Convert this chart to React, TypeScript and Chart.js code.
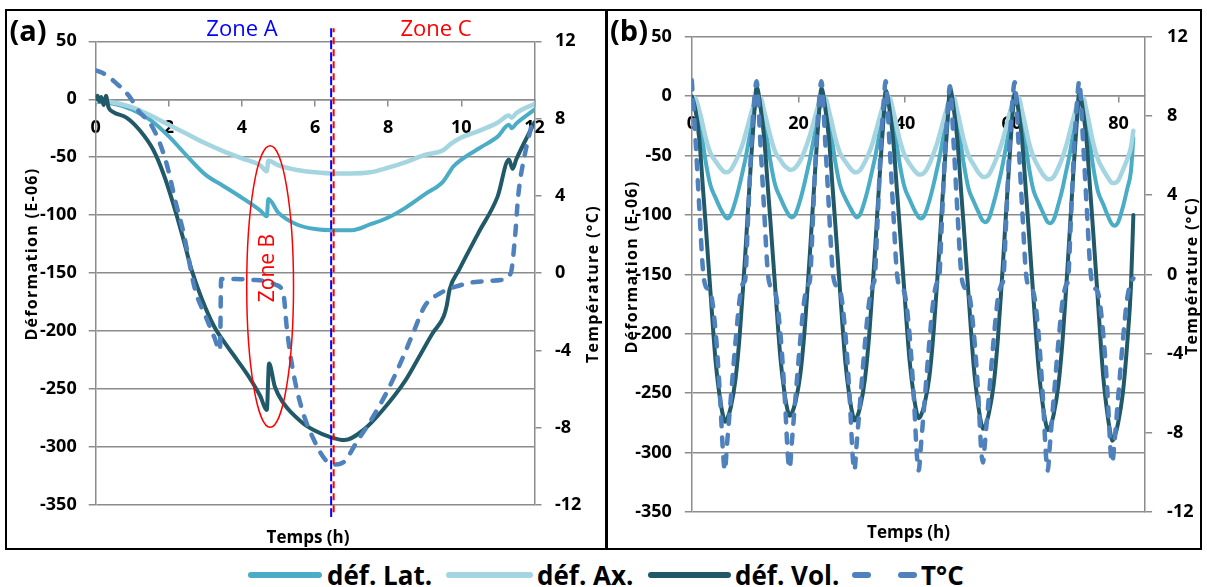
import React, { useEffect, useRef } from "react";
import { Chart, registerables } from "chart.js";

Chart.register(...registerables);

const FONT = "'Open Sans', 'DejaVu Sans', sans-serif";
const GRID = "#8C8C8C";
const C_LAT = "#4BACC6";
const C_AX = "#A5D5E1";
const C_VOL = "#215968";
const C_TEMP = "#4F81BD";

// ---------------- Panel (a): one 12 h cycle ----------------
const aLatT = [0, 0.5, 1, 1.5, 2, 2.5, 3, 3.5, 4, 4.5, 4.68, 4.72, 5, 5.5, 6, 6.5, 7, 7.5, 8, 8.5, 9, 9.5, 9.78, 10, 10.5, 11, 11.3, 11.38, 11.5, 12];
const aLatV = [-2, -4, -9, -18, -32, -49, -65, -75, -85, -96, -101, -86, -98, -108, -112, -113, -113, -108, -102, -93, -82, -71, -58, -52, -42, -32, -22, -25, -21, -9];

const aAxT = [0, 0.5, 1, 1.5, 2, 2.5, 3, 3.5, 4, 4.5, 4.68, 4.72, 5, 5.5, 6, 6.5, 7, 7.5, 8, 8.5, 9, 9.5, 9.73, 10, 10.5, 11, 11.3, 11.38, 11.5, 12];
const aAxV = [-1, -3, -7, -14, -22, -30, -38, -45, -51, -57, -62, -53, -57, -61, -63, -64, -64, -63, -59, -54, -48, -44, -38, -33, -27, -20, -14, -16, -12, -4];

const aVolT = [0, 0.05, 0.1, 0.15, 0.22, 0.28, 0.35, 0.48, 0.85, 1.21, 1.58, 1.85, 2.12, 2.4, 2.62, 2.9, 3.24, 3.55, 3.87, 4.2, 4.5, 4.68, 4.74, 4.9, 5.13, 5.65, 6.0, 6.38, 6.8, 7.33, 7.85, 8.48, 8.9, 9.21, 9.52, 9.6, 9.68, 9.94, 10.47, 10.99, 11.3, 11.4, 11.5, 12];
const aVolV = [0, 3, -2, 2, -5, 3, -7, -11, -16, -27, -44, -64, -90, -121, -147, -172, -196, -211, -225, -240, -256, -268, -228, -248, -262, -279, -286, -291, -294, -285, -268, -242, -219, -202, -187, -178, -164, -147, -115, -84, -52, -60, -52, -20];

const aTempT = [0, 0.25, 0.58, 0.94, 1.17, 1.49, 1.76, 1.99, 2.17, 2.4, 2.72, 3.0, 3.24, 3.4, 3.43, 3.8, 4.3, 4.6, 4.92, 5.13, 5.23, 5.39, 5.65, 5.96, 6.28, 6.54, 6.8, 7.12, 7.53, 7.95, 8.37, 8.68, 9.0, 9.42, 9.84, 10.46, 11.09, 11.35, 11.46, 11.56, 11.72, 11.94];
const aTempV = [10.5, 10.3, 9.8, 9.1, 8.4, 7.75, 6.7, 5.3, 3.8, 2.1, -0.87, -2.2, -3.3, -4.0, -0.3, -0.3, -0.35, -0.4, -0.6, -1.04, -2.9, -5.0, -7.1, -8.6, -9.66, -9.9, -9.75, -8.8, -7.6, -6.2, -4.5, -3.1, -1.7, -1.04, -0.7, -0.44, -0.35, 0, 1.7, 4.1, 6.0, 7.8];

const ZONE_LINE_T = 6.48;
const ELLIPSE_T = 4.77;
const ELLIPSE_HALF_W = 0.64;
const ELLIPSE_TOP = -40;
const ELLIPSE_BOTTOM = -283;

// ---------------- Panel (b): seven cycles ----------------
const bT = [
  0, 0.7, 1.4, 2.1, 2.6, 3.5, 4.5, 5.3, 5.9, 6.2, 6.6, 7.3, 8.2, 9.0, 9.7, 10.0, 10.5, 11.1, 11.7,
  12.15, 12.85, 13.55, 14.25, 14.75, 15.65, 16.65, 17.45, 18.05, 18.35, 18.75, 19.45, 20.35, 21.15, 21.85, 22.15, 22.65, 23.25, 23.85,
  24.3, 25.0, 25.7, 26.4, 26.9, 27.8, 28.8, 29.6, 30.2, 30.5, 30.9, 31.6, 32.5, 33.3, 34.0, 34.3, 34.8, 35.4, 36.0,
  36.35, 37.05, 37.75, 38.45, 38.95, 39.85, 40.85, 41.65, 42.25, 42.55, 42.95, 43.65, 44.55, 45.35, 46.05, 46.35, 46.85, 47.45, 48.05,
  48.4, 49.1, 49.8, 50.5, 51.0, 51.9, 52.9, 53.7, 54.3, 54.6, 55.0, 55.7, 56.6, 57.4, 58.1, 58.4, 58.9, 59.5, 60.1,
  60.55, 61.25, 61.95, 62.65, 63.15, 64.05, 65.05, 65.85, 66.45, 66.75, 67.15, 67.85, 68.75, 69.55, 70.25, 70.55, 71.05, 71.65, 72.25,
  72.65, 73.35, 74.05, 74.75, 75.25, 76.15, 77.15, 77.95, 78.55, 78.85, 79.25, 79.95, 80.85, 81.65, 82.35, 82.8,
];
const bTemp = [
  9.8, 6.8, 3.4, 0.2, -0.6, -0.9, -3.0, -6.2, -9.2, -9.9, -8.6, -6.3, -3.4, -1.2, -0.4, -0.3, 2.5, 6.2, 8.8,
  9.75, 6.7, 3.3, 0.1, -0.6, -0.9, -3.1, -6.3, -9.3, -9.8, -8.5, -6.2, -3.3, -1.2, -0.5, -0.3, 2.4, 6.1, 8.7,
  9.75, 6.8, 3.4, 0.2, -0.5, -0.8, -3.0, -6.2, -9.3, -9.9, -8.6, -6.3, -3.4, -1.3, -0.5, -0.2, 2.5, 6.2, 8.8,
  9.75, 6.7, 3.3, 0.1, -0.6, -0.9, -3.1, -6.3, -9.3, -9.9, -8.7, -6.4, -3.4, -1.2, -0.4, -0.3, 2.4, 6.0, 8.6,
  9.5, 6.6, 3.2, 0.1, -0.6, -0.9, -3.0, -6.0, -9.0, -9.5, -8.4, -6.2, -3.3, -1.2, -0.5, -0.3, 2.4, 6.1, 8.7,
  9.7, 6.7, 3.3, 0.1, -0.6, -0.9, -3.1, -6.3, -9.3, -9.9, -8.6, -6.3, -3.4, -1.3, -0.5, -0.3, 2.5, 6.2, 8.8,
  9.75, 6.8, 3.4, 0.2, -0.6, -0.9, -3.0, -6.0, -9.0, -9.5, -8.5, -6.2, -3.3, -1.2, -0.4, -0.2,
];
const bVol = [
  0, -12, -36, -78, -108, -165, -225, -255, -270, -274, -272, -262, -238, -200, -155, -135, -98, -55, -15,
  8, -8, -34, -76, -106, -162, -222, -252, -266, -269, -267, -257, -234, -197, -152, -132, -96, -54, -14,
  7, -9, -35, -77, -107, -164, -224, -254, -269, -273, -271, -261, -237, -199, -154, -134, -97, -55, -16,
  5, -10, -36, -78, -108, -164, -223, -253, -268, -271, -269, -259, -236, -198, -153, -133, -97, -55, -15,
  7, -10, -37, -80, -110, -168, -229, -260, -276, -280, -278, -267, -243, -204, -158, -137, -100, -58, -18,
  3, -12, -38, -80, -111, -169, -230, -261, -277, -281, -279, -268, -243, -204, -158, -137, -100, -57, -18,
  3, -12, -39, -82, -113, -172, -236, -268, -285, -290, -287, -275, -249, -208, -160, -100,
];
const bLat = [
  -2, -5, -20, -40, -55, -75, -86, -94, -99, -101, -103, -100, -88, -74, -60, -54, -42, -27, -12,
  -5, -4, -20, -40, -55, -75, -86, -94, -99, -101, -102, -99, -87, -73, -59, -53, -41, -27, -12,
  -5, -4, -20, -40, -55, -75, -86, -93, -98, -100, -102, -99, -87, -73, -59, -53, -41, -26, -12,
  -5, -4, -20, -41, -56, -76, -87, -95, -100, -102, -103, -100, -88, -74, -60, -54, -42, -27, -13,
  -5, -5, -21, -42, -57, -78, -89, -97, -103, -105, -106, -103, -90, -76, -62, -55, -43, -28, -13,
  -5, -5, -21, -42, -58, -79, -90, -98, -104, -106, -107, -104, -91, -77, -62, -56, -44, -28, -13,
  -6, -5, -22, -43, -59, -80, -91, -100, -106, -108, -109, -106, -93, -78, -63, -35,
];
const bAx = [
  -1, -2, -12, -25, -35, -48, -55, -60, -63, -64, -64, -62, -55, -47, -38, -33, -25, -15, -6,
  -1, -1, -12, -25, -34, -47, -54, -59, -61, -62, -62, -60, -54, -46, -37, -33, -25, -15, -6,
  -1, -1, -12, -25, -35, -48, -55, -60, -63, -64, -64, -62, -55, -47, -38, -33, -25, -15, -6,
  -1, -1, -12, -26, -36, -49, -57, -62, -65, -66, -66, -64, -57, -48, -39, -34, -26, -16, -7,
  -1, -1, -13, -27, -37, -50, -58, -64, -67, -68, -68, -66, -58, -49, -40, -35, -27, -16, -7,
  -1, -1, -13, -27, -38, -51, -60, -66, -69, -70, -70, -68, -60, -51, -41, -36, -27, -17, -7,
  -1, -1, -13, -28, -39, -53, -62, -68, -72, -73, -73, -71, -62, -53, -43, -29,
];

const LEGEND_LABELS = ["déf. Lat.", "déf. Ax.", "déf. Vol.", "T°C"];

function pts(t: number[], v: number[]) {
  return t.map((x, i) => ({ x, y: v[i] }));
}

function ds(label: string, data: any[], color: string, width: number, order: number, yAxisID: string, dash?: number[]) {
  return {
    label,
    data,
    borderColor: color,
    backgroundColor: color,
    borderWidth: width,
    pointRadius: 0,
    pointHoverRadius: 0,
    fill: false,
    cubicInterpolationMode: "monotone",
    order,
    yAxisID,
    borderDash: dash || [],
    borderCapStyle: "round",
    borderJoinStyle: "round",
  };
}

type Spec = {
  xMax: number;
  xStep: number;
  yW: number;
  y1W: number;
  padTop: number;
  padBottom: number;
  xPad: number;
  yPad: number;
  y1Pad: number;
};

function buildOptions(p: Spec): any {
  const tickFont = { family: FONT, size: 18, weight: "bold" as const };
  return {
    responsive: false,
    animation: false,
    events: [],
    layout: { padding: { top: p.padTop, bottom: p.padBottom, left: 0, right: 0 } },
    plugins: { legend: { display: false }, tooltip: { enabled: false } },
    scales: {
      x: {
        type: "linear",
        position: { y: 0 },
        min: 0,
        max: p.xMax,
        ticks: { stepSize: p.xStep, font: tickFont, color: "#000", padding: p.xPad, maxRotation: 0, autoSkip: false, includeBounds: false },
        grid: { drawOnChartArea: false, drawTicks: true, tickLength: 6, color: GRID, lineWidth: 1.5 },
        border: { display: true, color: GRID, width: 1.5 },
      },
      y: {
        type: "linear",
        position: "left",
        min: -350,
        max: 50,
        ticks: { stepSize: 50, font: tickFont, color: "#000", padding: p.yPad },
        grid: { color: GRID, lineWidth: 1.5, tickLength: 7, drawTicks: true },
        border: { color: GRID, width: 1.5 },
        afterFit: (s: any) => {
          s.width = p.yW;
        },
      },
      y1: {
        type: "linear",
        position: "right",
        min: -12,
        max: 12,
        ticks: { stepSize: 4, font: tickFont, color: "#000", padding: p.y1Pad },
        grid: { drawOnChartArea: false, tickLength: 7, color: GRID, lineWidth: 1.5 },
        border: { color: GRID, width: 1.5 },
        afterFit: (s: any) => {
          s.width = p.y1W;
        },
      },
    },
  };
}

const zonePlugin = {
  id: "zones",
  afterDatasetsDraw(chart: any) {
    const { ctx, scales, chartArea } = chart;
    const xs = scales.x;
    const ys = scales.y;
    const zx = xs.getPixelForValue(ZONE_LINE_T);
    const top = chartArea.top - 13;
    const bottom = chartArea.bottom + 12;
    ctx.save();
    ctx.lineWidth = 2;
    ctx.setLineDash([9, 3]);
    ctx.strokeStyle = "#0000FF";
    ctx.beginPath();
    ctx.moveTo(zx - 1.5, top);
    ctx.lineTo(zx - 1.5, bottom);
    ctx.stroke();
    ctx.setLineDash([7, 5]);
    ctx.lineDashOffset = 3;
    ctx.strokeStyle = "#FF0000";
    ctx.beginPath();
    ctx.moveTo(zx + 1, top);
    ctx.lineTo(zx + 1, bottom);
    ctx.stroke();
    ctx.setLineDash([]);
    const cx = xs.getPixelForValue(ELLIPSE_T);
    const rx = cx - xs.getPixelForValue(ELLIPSE_T - ELLIPSE_HALF_W);
    const yT = ys.getPixelForValue(ELLIPSE_TOP);
    const yB = ys.getPixelForValue(ELLIPSE_BOTTOM);
    ctx.lineWidth = 1.5;
    ctx.strokeStyle = "#FF0000";
    ctx.beginPath();
    ctx.ellipse(cx, (yT + yB) / 2, rx, (yB - yT) / 2, 0, 0, Math.PI * 2);
    ctx.stroke();
    ctx.restore();
  },
};

function configA(): any {
  return {
    type: "line",
    data: {
      datasets: [
        ds(LEGEND_LABELS[0], pts(aLatT, aLatV), C_LAT, 4, 3, "y"),
        ds(LEGEND_LABELS[1], pts(aAxT, aAxV), C_AX, 4.5, 2, "y"),
        ds(LEGEND_LABELS[2], pts(aVolT, aVolV), C_VOL, 4, 1, "y"),
        ds(LEGEND_LABELS[3], pts(aTempT, aTempV), C_TEMP, 4.5, 0, "y1", [9, 11]),
      ],
    },
    options: buildOptions({ xMax: 12, xStep: 2, yW: 88.7, y1W: 69.5, padTop: 30.3, padBottom: 43, xPad: 11.4, yPad: 12, y1Pad: 13.5 }),
    plugins: [zonePlugin],
  };
}

function configB(): any {
  return {
    type: "line",
    data: {
      datasets: [
        ds(LEGEND_LABELS[0], pts(bT, bLat), C_LAT, 4, 3, "y"),
        ds(LEGEND_LABELS[1], pts(bT, bAx), C_AX, 4.5, 2, "y"),
        ds(LEGEND_LABELS[2], pts(bT, bVol), C_VOL, 4, 1, "y"),
        ds(LEGEND_LABELS[3], pts(bT, bTemp), C_TEMP, 4.5, 0, "y1", [9, 11]),
      ],
    },
    options: buildOptions({ xMax: 85, xStep: 20, yW: 82.8, y1W: 55.9, padTop: 24.5, padBottom: 36, xPad: 10.7, yPad: 13, y1Pad: 15 }),
  };
}

function ChartBox(props: { left: number; top: number; width: number; height: number; make: () => any }) {
  const ref = useRef<HTMLCanvasElement>(null);
  useEffect(() => {
    const chart = new Chart(ref.current as HTMLCanvasElement, props.make());
    return () => chart.destroy();
  }, []);
  return (
    <canvas
      ref={ref}
      width={props.width}
      height={props.height}
      style={{ position: "absolute", left: props.left, top: props.top, width: props.width, height: props.height }}
    />
  );
}

function Txt(props: { x: number; y: number; text: string; size: number; weight?: number; color?: string; rot?: number; ls?: number }) {
  return (
    <div
      style={{
        position: "absolute",
        left: props.x,
        top: props.y,
        transform: `translate(-50%, -50%) rotate(${props.rot || 0}deg)`,
        fontFamily: FONT,
        fontSize: props.size,
        fontWeight: props.weight ?? 700,
        color: props.color || "#000",
        whiteSpace: "nowrap",
        lineHeight: 1,
        letterSpacing: props.ls || 0,
      }}
    >
      {props.text}
    </div>
  );
}

function LegendLine(props: { x1: number; x2: number; color: string }) {
  return (
    <div
      style={{
        position: "absolute",
        left: props.x1,
        top: 572,
        width: props.x2 - props.x1,
        height: 6,
        borderRadius: 3,
        background: props.color,
      }}
    />
  );
}

function LegendText(props: { x: number; text: string }) {
  return (
    <div
      style={{
        position: "absolute",
        left: props.x,
        top: 575,
        transform: "translateY(-50%)",
        fontFamily: FONT,
        fontSize: 26,
        fontWeight: 700,
        lineHeight: 1,
        whiteSpace: "nowrap",
        color: "#000",
      }}
    >
      {props.text}
    </div>
  );
}

export default function App() {
  return (
    <div style={{ position: "fixed", left: 0, top: 0, width: 1207, height: 587, background: "#fff", overflow: "hidden" }}>
      <ChartBox left={7} top={11} width={597} height={537} make={configA} />
      <ChartBox left={609} top={11} width={592} height={537} make={configB} />

      {/* frame */}
      <div style={{ position: "absolute", left: 5, top: 9, width: 1197, height: 541, border: "2px solid #000", boxSizing: "border-box", pointerEvents: "none" }} />
      <div style={{ position: "absolute", left: 605, top: 9, width: 3, height: 541, background: "#000" }} />

      {/* panel labels */}
      <Txt x={28} y={28.5} text="(a)" size={29} />
      <Txt x={629} y={28.5} text="(b)" size={29} />

      {/* zones */}
      <Txt x={242} y={27} text="Zone A" size={22} weight={400} color="#0000FF" />
      <Txt x={436} y={27} text="Zone C" size={22} weight={400} color="#FF0000" />
      <Txt x={266} y={268} text="Zone B" size={21} weight={400} color="#FF0000" rot={-90} />

      {/* axis titles (a) */}
      <Txt x={30.5} y={254} text="Déformation (E-06)" size={16} rot={-90} ls={1.3} />
      <Txt x={592} y={284} text="Température (°C)" size={16} rot={-90} ls={1.3} />
      <Txt x={308} y={535.5} text="Temps (h)" size={17} />

      {/* axis titles (b) */}
      <Txt x={631} y={267} text="Déformation (E-06)" size={16} rot={-90} ls={1.3} />
      <Txt x={1191} y={276} text="Température (°C)" size={16} rot={-90} ls={1.3} />
      <Txt x={908.5} y={530.5} text="Temps (h)" size={17} />

      {/* legend */}
      <LegendLine x1={248} x2={322} color={C_LAT} />
      <LegendText x={327} text={LEGEND_LABELS[0]} />
      <LegendLine x1={446} x2={533} color={C_AX} />
      <LegendText x={537} text={LEGEND_LABELS[1]} />
      <LegendLine x1={648} x2={731} color={C_VOL} />
      <LegendText x={735} text={LEGEND_LABELS[2]} />
      <LegendLine x1={852} x2={871} color={C_TEMP} />
      <LegendLine x1={898} x2={917} color={C_TEMP} />
      <LegendText x={921} text={LEGEND_LABELS[3]} />
    </div>
  );
}
